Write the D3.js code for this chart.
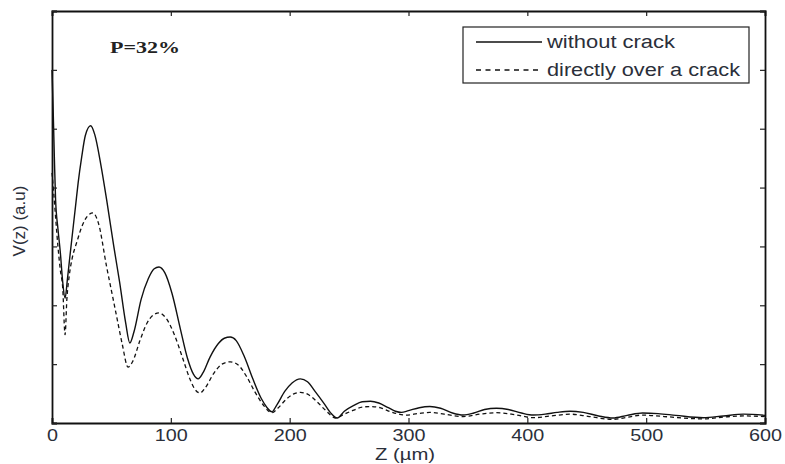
<!DOCTYPE html>
<html><head><meta charset="utf-8">
<script src="https://cdn.jsdelivr.net/npm/d3@7"></script>
<style>html,body{margin:0;padding:0;background:#fff;}</style>
</head><body>
<svg id="c" width="785" height="464"></svg>
<script>
const zSolid = [0,1,2,3,5,7,9,11,13,15,18,20,22,25,28,32.5,36,41,46,52,57,62,65.5,69,75,81,86,90,95,101,108,114,119,123,127,133,140,145,150,155,162,169,176,181,185,189,196,202,209,215,222,229,235,240,246,254,261,268,275,283,289,294,300,309,318,327,337,346,355,364,374,384,395,405,415,425,436,447,460,472,484,497,510,525,548,565,582,600];
const vSolid = [6.0,5.3,4.5,3.8,3.3,2.9,2.4,2.12,2.45,2.82,3.36,3.72,4.08,4.52,4.88,5.05,4.9,4.4,3.79,3.0,2.38,1.7,1.36,1.55,2.1,2.45,2.62,2.65,2.55,2.2,1.6,1.1,0.83,0.75,0.85,1.12,1.35,1.44,1.46,1.4,1.12,0.75,0.42,0.26,0.19,0.3,0.54,0.68,0.75,0.7,0.52,0.33,0.16,0.085,0.2,0.3,0.36,0.37,0.34,0.26,0.2,0.18,0.21,0.26,0.28,0.25,0.17,0.135,0.17,0.23,0.25,0.23,0.17,0.135,0.15,0.18,0.2,0.18,0.12,0.085,0.13,0.17,0.16,0.13,0.09,0.12,0.15,0.13];
const zCrack = [0,1.5,3,5,7,9,11,12.5,14.5,17,21,25,30,34.5,39,46,50,54.5,59,64,68,74,80,85,90,96,103,110,116,120,124.5,129,136,143,150,157,164,171,178,185,190,197,203,209,216,223,230,239,246,254,261,268,276,285,298,308,318,330,346,360,374,390,405,420,436,452,472,485,497,515,548,565,582,600];
const vCrack = [4.25,3.9,3.5,3.0,2.6,2.3,1.5,2.1,2.5,2.8,3.08,3.33,3.52,3.57,3.4,2.65,2.25,1.8,1.35,0.95,1.05,1.4,1.7,1.83,1.87,1.78,1.5,1.1,0.75,0.58,0.51,0.6,0.84,1.0,1.04,0.98,0.78,0.52,0.3,0.175,0.25,0.4,0.49,0.52,0.48,0.36,0.22,0.085,0.15,0.22,0.27,0.28,0.26,0.19,0.135,0.16,0.18,0.15,0.11,0.15,0.175,0.14,0.09,0.12,0.15,0.11,0.06,0.1,0.135,0.11,0.07,0.1,0.12,0.11];
const xTicks = [0,100,200,300,400,500,600];
const yTicks = [0,1,2,3,4,5,6,7];
const seriesNames = ["without crack","directly over a crack"];
const xLabel = "Z (µm)";
const yLabel = "V(z) (a.u)";
const annotation = "P=32%";

const svg = d3.select("#c");
const L=52, R=765, T=11, B=423;
const x = d3.scaleLinear().domain([0,600]).range([L,R]);
const y = d3.scaleLinear().domain([0,7]).range([B,T]);
const txtCol = "#2b2f3a";
const sans = "Liberation Sans, Arial, sans-serif";

const line = d3.line().x(d=>x(d[0])).y(d=>y(d[1])).curve(d3.curveMonotoneX);
const dS = zSolid.map((z,i)=>[z,vSolid[i]]);
const dC = zCrack.map((z,i)=>[z,vCrack[i]]);

const g = svg.append("g");
g.append("path").datum(dC).attr("d",line).attr("fill","none").attr("stroke","#111").attr("stroke-width",1.3).attr("stroke-dasharray","4,3");
g.append("path").datum(dS).attr("d",line).attr("fill","none").attr("stroke","#111").attr("stroke-width",1.4);

// axes with inward ticks
const ax = svg.append("g").attr("transform",`translate(0,${B})`)
  .call(d3.axisBottom(x).tickValues(xTicks).tickSize(-5).tickPadding(8).tickFormat(d3.format("d")));
const axT = svg.append("g").attr("transform",`translate(0,${T})`)
  .call(d3.axisTop(x).tickValues(xTicks).tickSize(-5).tickFormat(""));
const ayL = svg.append("g").attr("transform",`translate(${L},0)`)
  .call(d3.axisLeft(y).tickValues(yTicks).tickSize(-5).tickFormat(""));
const ayR = svg.append("g").attr("transform",`translate(${R},0)`)
  .call(d3.axisRight(y).tickValues(yTicks).tickSize(-5).tickFormat(""));
[ax,axT,ayL,ayR].forEach(a=>{
  a.select(".domain").attr("stroke","#111").attr("stroke-width",1.8);
  a.selectAll(".tick line").attr("stroke","#222").attr("stroke-width",1.2);
});
ax.selectAll(".tick text").attr("font-family",sans).attr("font-size",16).attr("fill",txtCol)
  .attr("dy",null).attr("y",18)
  .attr("textLength",d=>String(d).length*11).attr("lengthAdjust","spacingAndGlyphs");

svg.append("text").attr("x",405).attr("y",460).attr("text-anchor","middle")
  .attr("font-family",sans).attr("font-size",16).attr("fill",txtCol)
  .attr("textLength",60).attr("lengthAdjust","spacingAndGlyphs").text(xLabel);
svg.append("text").attr("transform","translate(25,221) rotate(-90)").attr("text-anchor","middle")
  .attr("font-family",sans).attr("font-size",17).attr("fill",txtCol).text(yLabel);

svg.append("text").attr("x",110).attr("y",53).attr("font-family","Liberation Serif, Times New Roman, serif")
  .attr("font-weight","bold").attr("font-size",17).attr("fill","#222")
  .attr("textLength",70).attr("lengthAdjust","spacingAndGlyphs").text(annotation);

// legend
const lg = svg.append("g");
lg.append("rect").attr("x",463).attr("y",27).attr("width",286).attr("height",56).attr("fill","#fff").attr("stroke","#222").attr("stroke-width",1.2);
const ly = [42,70];
const lw = [128,193];
seriesNames.forEach((n,i)=>{
  lg.append("line").attr("x1",476).attr("x2",542).attr("y1",ly[i]).attr("y2",ly[i]).attr("stroke","#111").attr("stroke-width",1.3)
    .attr("stroke-dasharray", i===1?"5,4.5":null);
  lg.append("text").attr("x",547).attr("y",ly[i]+6).attr("font-family",sans).attr("font-size",18).attr("fill",txtCol)
    .attr("textLength",lw[i]).attr("lengthAdjust","spacingAndGlyphs").text(n);
});
</script>
</body></html>
